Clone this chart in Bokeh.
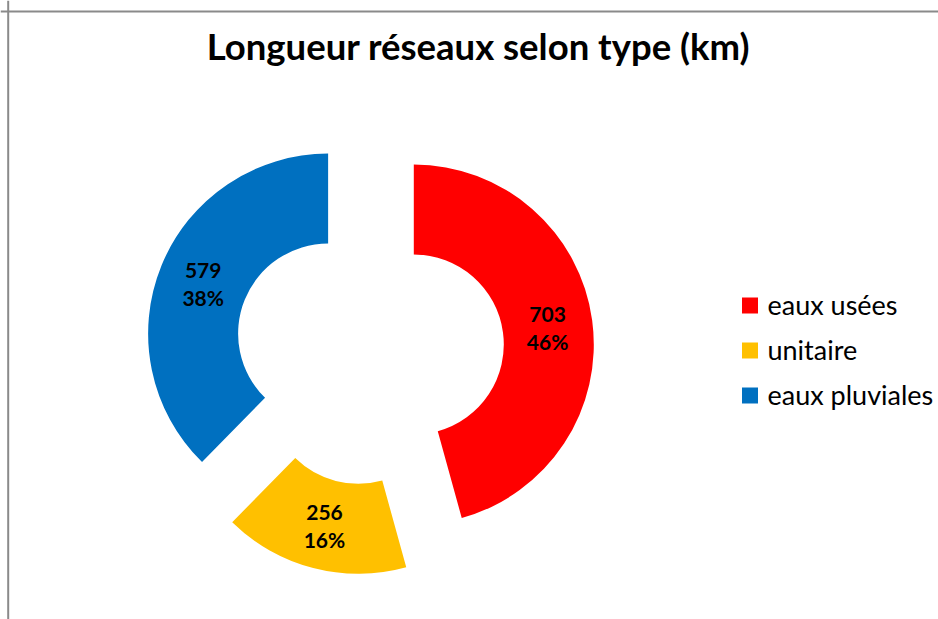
import numpy as np
from bokeh.plotting import figure
from bokeh.models import Range1d, Span
from bokeh.core.properties import value
from bokeh.embed import file_html
from bokeh.resources import INLINE

title_text = "Longueur réseaux selon type (km)"
categories = ["eaux usées", "unitaire", "eaux pluviales"]
values = [703, 256, 579]
pct_labels = ["46%", "16%", "38%"]
colors = ["#FF0000", "#FFC000", "#0070C0"]

W, H = 938, 619
FONT = "Lato"

p = figure(width=W, height=H, x_range=Range1d(0, W), y_range=Range1d(0, H),
           output_backend="svg", toolbar_location=None,
           x_axis_location=None, y_axis_location=None, min_border=0)
p.grid.visible = False
p.outline_line_color = None
p.background_fill_color = "white"
p.border_fill_color = "white"

# chart border (top & left visible, rest is outside the window)
p.add_layout(Span(location=7.7, dimension="height", line_color="#8a8a8a", line_width=2))
p.add_layout(Span(location=608, dimension="width", line_color="#8a8a8a", line_width=2))

# donut geometry (pixel-based data space)
cx, cy = 369, 269
R_out, R_in = 180, 90
explode = 44.7

vals = np.array(values, dtype=float)
frac = vals / vals.sum()
cum = np.concatenate([[0.0], np.cumsum(frac)])
t1 = cum[:-1] * 2 * np.pi   # clockwise from 12 o'clock
t2 = cum[1:] * 2 * np.pi
mid = (t1 + t2) / 2
dx, dy = np.sin(mid), np.cos(mid)
xs = cx + explode * dx
ys = cy + explode * dy

p.annular_wedge(x=xs, y=ys, inner_radius=R_in, outer_radius=R_out,
                start_angle=np.pi / 2 - t2, end_angle=np.pi / 2 - t1,
                fill_color=colors, line_color=None)

rm = (R_in + R_out) / 2
lx = xs + rm * dx
ly = ys + rm * dy
p.text(x=lx, y=ly + 12, text=[str(v) for v in values], text_align="center",
       text_baseline="alphabetic", text_font=value(FONT), text_font_style="bold",
       text_font_size="21px", text_color="black")
p.text(x=lx, y=ly - 15, text=pct_labels, text_align="center",
       text_baseline="alphabetic", text_font=value(FONT), text_font_style="bold",
       text_font_size="21px", text_color="black")

# title
p.text(x=[478], y=[574], text=[title_text], text_align="center",
       text_baseline="alphabetic", text_font=value(FONT), text_font_style="bold",
       text_font_size="36.5px", text_color="black")

# legend
leg_x_sq = 749.5
leg_x_txt = 767
leg_y0 = 314
leg_step = 45
ly_leg = np.array([leg_y0 - i * leg_step for i in range(len(categories))], dtype=float)
p.scatter(x=[leg_x_sq] * len(categories), y=ly_leg, marker="square", size=16,
          fill_color=colors, line_color=None)
p.text(x=[leg_x_txt] * len(categories), y=ly_leg + 1, text=categories,
       text_align="left", text_baseline="alphabetic", text_font=value(FONT),
       text_font_size="27px", text_color="black")

open("out.html", "w").write(file_html(p, INLINE))
